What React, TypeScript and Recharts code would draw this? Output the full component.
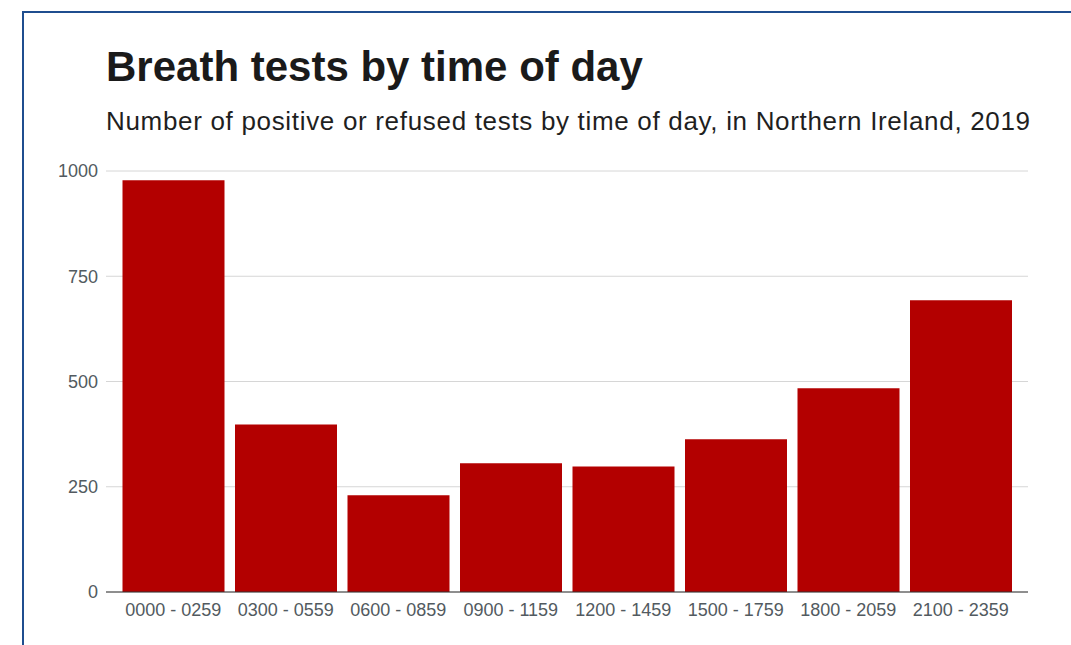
import { BarChart, Bar, XAxis, YAxis, CartesianGrid } from 'recharts';

const categories = [
    '0000 - 0259',
    '0300 - 0559',
    '0600 - 0859',
    '0900 - 1159',
    '1200 - 1459',
    '1500 - 1759',
    '1800 - 2059',
    '2100 - 2359'
];
const tests = [978, 398, 230, 306, 298, 363, 484, 693];
const yTicks = [0, 250, 500, 750, 1000];

const data = categories.map((name, i) => ({ name, tests: tests[i] }));

const font = '"Liberation Sans", Arial, sans-serif';

export default function App() {
    return (
        <div
            style={{
                position: 'absolute',
                left: 0,
                top: 0,
                width: 1071,
                height: 645,
                background: '#fff',
                overflow: 'hidden',
                fontFamily: font
            }}
        >
            {/* frame, open on the right and bottom */}
            <div
                style={{
                    position: 'absolute',
                    left: 22,
                    top: 11,
                    width: 1100,
                    height: 700,
                    borderTop: '2px solid #1f4e8f',
                    borderLeft: '2px solid #1f4e8f'
                }}
            />
            <div
                style={{
                    position: 'absolute',
                    left: 106,
                    top: 46,
                    fontSize: 42,
                    lineHeight: '42px',
                    fontWeight: 700,
                    color: '#1a1a1a',
                    whiteSpace: 'nowrap'
                }}
            >
                Breath tests by time of day
            </div>
            <div
                style={{
                    position: 'absolute',
                    left: 106,
                    top: 108,
                    fontSize: 26,
                    lineHeight: '26px',
                    letterSpacing: 0.68,
                    color: '#1f1f1f',
                    whiteSpace: 'nowrap'
                }}
            >
                Number of positive or refused tests by time of day, in Northern Ireland, 2019
            </div>
            <div style={{ position: 'absolute', left: 0, top: 0 }}>
                <BarChart
                    width={1071}
                    height={645}
                    data={data}
                    margin={{ top: 171, right: 43, left: 56, bottom: 23 }}
                    barCategoryGap={5.5}
                >
                    <CartesianGrid vertical={false} stroke="#d6d6d6" />
                    <XAxis
                        dataKey="name"
                        height={30}
                        padding={{ left: 11, right: 11 }}
                        tickLine={false}
                        tickSize={0}
                        tickMargin={11}
                        stroke="#333"
                        tick={{ fill: '#525a60', fontSize: 18, fontFamily: font }}
                        interval={0}
                    />
                    <YAxis
                        width={50}
                        domain={[0, 1000]}
                        ticks={yTicks}
                        axisLine={false}
                        tickLine={false}
                        tickSize={0}
                        tickMargin={8}
                        tick={{ fill: '#525a60', fontSize: 18, fontFamily: font }}
                    />
                    <Bar dataKey="tests" fill="#b30000" isAnimationActive={false} />
                </BarChart>
            </div>
        </div>
    );
}
